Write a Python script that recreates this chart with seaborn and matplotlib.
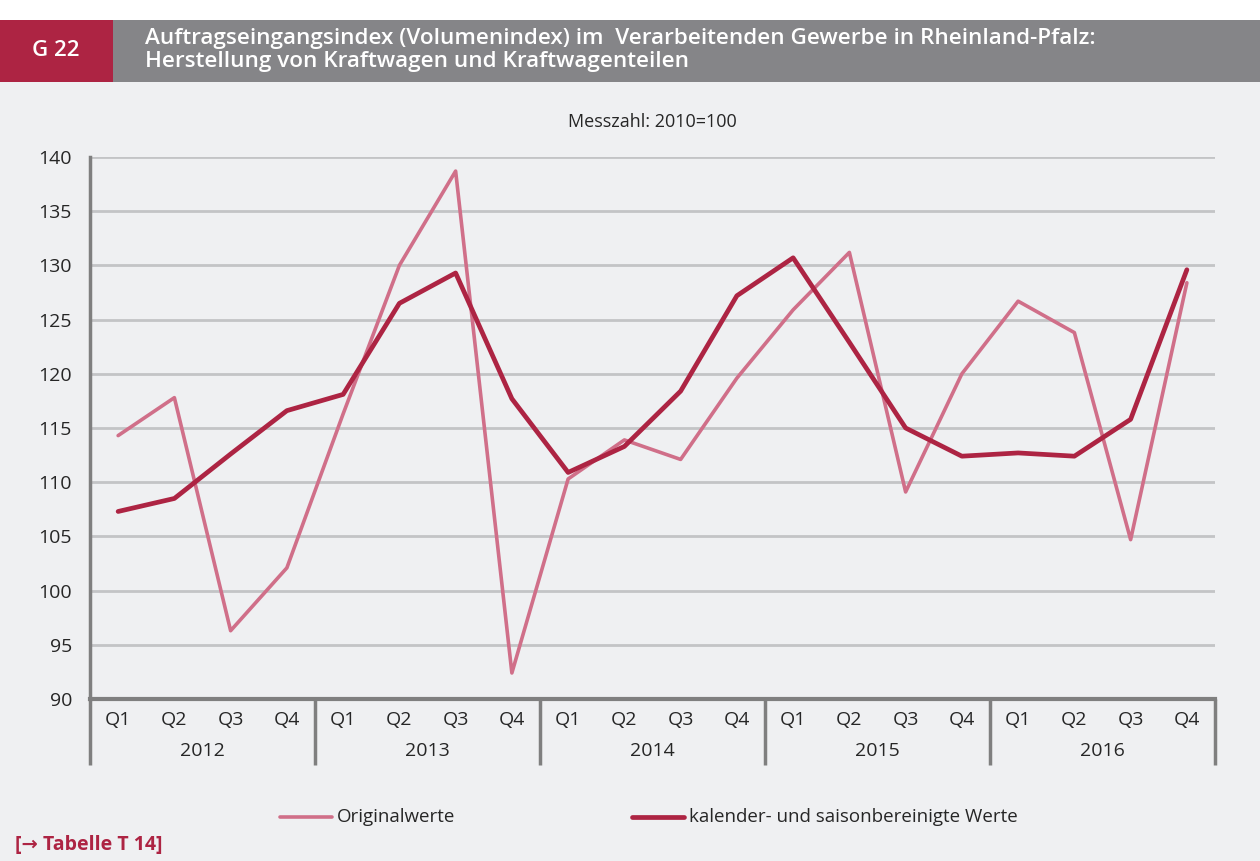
import numpy as np
import pandas as pd
import seaborn as sns
import matplotlib.pyplot as plt
from matplotlib.patches import Rectangle
import matplotlib.transforms as mtrans

years = ['2012', '2013', '2014', '2015', '2016']
quarters = ['Q1', 'Q2', 'Q3', 'Q4']

# Originalwerte
original = [114.3, 117.8, 96.3, 102.1,
            116.3, 130.0, 138.7, 92.4,
            110.3, 113.9, 112.1, 119.6,
            125.9, 131.2, 109.1, 120.0,
            126.7, 123.8, 104.7, 128.4]
# kalender- und saisonbereinigte Werte
adjusted = [107.3, 108.5, 112.6, 116.6,
            118.1, 126.5, 129.3, 117.7,
            110.9, 113.3, 118.4, 127.2,
            130.7, 122.9, 115.0, 112.4,
            112.7, 112.4, 115.8, 129.6]

series_names = ['Originalwerte', 'kalender- und saisonbereinigte Werte']

RED = '#ad2443'
PINK = '#d06f89'
BG = '#eff0f2'
GRAY_HEAD = '#858588'
SPINE = '#7f7f7f'
GRID = '#c3c4c6'

sns.set_style('white')
plt.rcParams['font.family'] = ['Open Sans', 'DejaVu Sans']

n = len(original)
df = pd.DataFrame({
    'pos': list(range(n)) * 2,
    'value': original + adjusted,
    'series': [series_names[0]] * n + [series_names[1]] * n,
})

fig = plt.figure(figsize=(12.6, 8.61), dpi=100, facecolor=BG)
W, H = 1260, 861

# header
fig.patches.append(Rectangle((0, 1 - 20 / H), 1, 20 / H, transform=fig.transFigure,
                             facecolor='white', edgecolor='none', zorder=0))
fig.patches.append(Rectangle((0, 1 - 82 / H), 1, 62 / H, transform=fig.transFigure,
                             facecolor=GRAY_HEAD, edgecolor='none', zorder=0))
fig.patches.append(Rectangle((0, 1 - 82 / H), 113 / W, 62 / H, transform=fig.transFigure,
                             facecolor=RED, edgecolor='none', zorder=1))
fig.text(56 / W, 1 - 51 / H, 'G 22', color='white', fontsize=16, fontweight='semibold',
         ha='center', va='center')
fig.text(145 / W, 1 - 50 / H,
         'Auftragseingangsindex (Volumenindex) im  Verarbeitenden Gewerbe in Rheinland-Pfalz:\n'
         'Herstellung von Kraftwagen und Kraftwagenteilen',
         color='white', fontsize=16.2, fontweight='semibold', ha='left', va='center',
         linespacing=1.1)

ax = fig.add_axes([90 / W, 1 - 699 / H, (1215 - 90) / W, (699 - 157) / H])
ax.set_facecolor(BG)

sns.lineplot(data=df, x='pos', y='value', hue='series', hue_order=series_names,
             palette=[PINK, RED], ax=ax, legend=False)
ax.lines[0].set_linewidth(2.6)
ax.lines[1].set_linewidth(3.4)

ax.set_xlim(-0.5, n - 0.5)
ax.set_ylim(90, 140)
ax.set_yticks(np.arange(90, 141, 5))
ax.yaxis.grid(True, color=GRID, linewidth=2)
ax.set_axisbelow(True)
ax.tick_params(axis='y', length=5, width=2, color=SPINE, labelsize=14, pad=8)

for s in ['top', 'right']:
    ax.spines[s].set_visible(False)
ax.spines['left'].set_color(SPINE)
ax.spines['left'].set_linewidth(2.5)
ax.spines['bottom'].set_color(SPINE)
ax.spines['bottom'].set_linewidth(3)

# quarter labels and separators
ax.set_xticks(range(n))
ax.set_xticklabels(quarters * len(years))
ax.tick_params(axis='x', length=0, labelsize=14, pad=9)
ax.set_xticks(np.arange(-0.5, n, 1), minor=True)
ax.tick_params(axis='x', which='minor', length=33, width=2.5, color=SPINE)
ax.set_xlabel('')
ax.set_ylabel('')

# year separators and labels
trans = mtrans.blended_transform_factory(ax.transData, ax.transAxes)
axh = (699 - 157)
for i in range(len(years) + 1):
    ax.plot([i * 4 - 0.5, i * 4 - 0.5], [0, -66 / axh], transform=trans, color=SPINE,
            linewidth=2.5, clip_on=False, solid_capstyle='butt')
for i, y in enumerate(years):
    ax.text(i * 4 + 1.5, -52 / axh, y, transform=trans, ha='center', va='center', fontsize=14)

fig.text(652 / W, 1 - 122 / H, 'Messzahl: 2010=100', ha='center', va='center', fontsize=13)

# legend
for name, color, lw, x0 in [(series_names[0], PINK, 2.6, 280), (series_names[1], RED, 3.4, 632)]:
    fig.lines.append(plt.Line2D([x0 / W, (x0 + 52) / W], [1 - 817 / H] * 2, transform=fig.transFigure,
                                color=color, linewidth=lw))
    fig.text((x0 + 57) / W, 1 - 817 / H, name, ha='left', va='center', fontsize=13.5)

fig.text(15 / W, 1 - 845 / H, '[→ Tabelle T 14]', ha='left', va='center', fontsize=14,
         fontweight='bold', color=RED)

fig.savefig('out.png', dpi=100, facecolor=BG)
